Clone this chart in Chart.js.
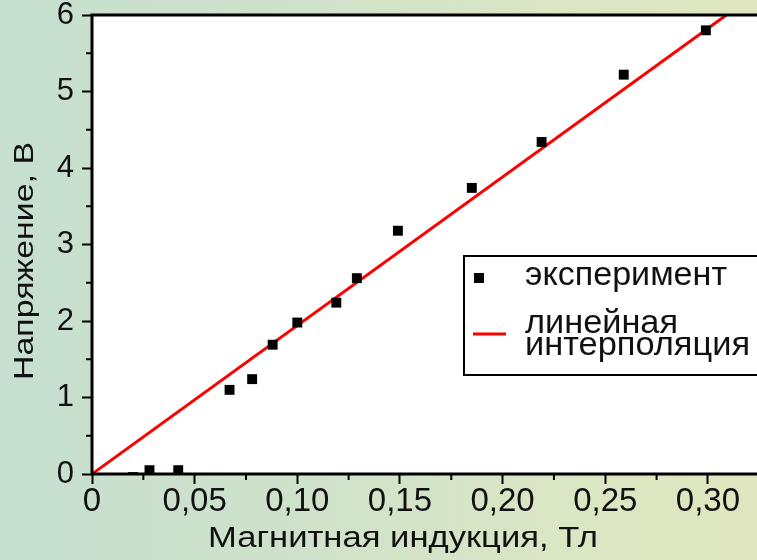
<!DOCTYPE html>
<html>
<head>
<meta charset="utf-8">
<script src="https://cdn.jsdelivr.net/npm/chart.js@4.4.0/dist/chart.umd.min.js"></script>
<style>
    html, body { margin: 0; padding: 0; }
    body {
        width: 757px; height: 560px; overflow: hidden;
        background: linear-gradient(90deg, #c6dfd0 0%, #cfe2ca 40%, #dbe6c4 75%, #e0e6bf 100%);
    }
    #wrap { position: relative; width: 757px; height: 560px; }
    canvas { display: block; }
</style>
</head>
<body>
<div id="wrap"><canvas id="chart" width="757" height="560"></canvas></div>
<script>
// experimental points: magnetic induction (T) vs voltage (V)
const inductionT = [0.020, 0.028, 0.042, 0.067, 0.078, 0.088, 0.100, 0.119, 0.129, 0.149, 0.185, 0.219, 0.259, 0.299];
const voltageV   = [-0.04, 0.05, 0.05, 1.10, 1.24, 1.69, 1.98, 2.24, 2.56, 3.18, 3.74, 4.34, 5.22, 5.80];

// linear interpolation endpoints
const fitT = [0, 0.309];
const fitV = [0, 6];

const xTickLabels = ['0', '0,05', '0,10', '0,15', '0,20', '0,25', '0,30'];
const yTickLabels = ['0', '1', '2', '3', '4', '5', '6'];

const xTitle = 'Магнитная индукция, Тл';
const yTitle = 'Напряжение, В';
const legendLabels = ['эксперимент', ['линейная', 'интерполяция']];

const FONT = '"Liberation Sans", Arial, sans-serif';

const expPoints = inductionT.map((x, i) => ({ x: x, y: voltageV[i] }));
const fitPoints = fitT.map((x, i) => ({ x: x, y: fitV[i] }));

// text stretched to the width it has in the picture
function wideText(ctx, text, x, y, size, width) {
    ctx.font = size + 'px ' + FONT;
    const w = ctx.measureText(text).width;
    ctx.save();
    ctx.translate(x, y);
    ctx.scale(width / w, 1);
    ctx.textAlign = 'left';
    ctx.fillText(text, 0, 0);
    ctx.restore();
}

const framePlugin = {
    id: 'frame',
    beforeDatasetsDraw(chart) {
        const { ctx, chartArea: a } = chart;
        ctx.save();
        ctx.fillStyle = '#fff';
        ctx.fillRect(a.left, a.top, chart.width - a.left, a.bottom - a.top);
        ctx.restore();
    },
    afterDatasetsDraw(chart) {
        const { ctx, chartArea: a, scales } = chart;
        ctx.save();
        // minor ticks
        ctx.strokeStyle = '#000';
        ctx.lineWidth = 2;
        for (let i = 0; i < 7; i++) {
            const px = scales.x.getPixelForValue(0.025 + i * 0.05);
            if (px > a.right) break;
            ctx.beginPath();
            ctx.moveTo(px, a.bottom);
            ctx.lineTo(px, a.bottom + 6);
            ctx.stroke();
        }
        for (let i = 0; i < 6; i++) {
            const py = scales.y.getPixelForValue(0.5 + i);
            ctx.beginPath();
            ctx.moveTo(a.left, py);
            ctx.lineTo(a.left - 6, py);
            ctx.stroke();
        }
        // axes frame: left, bottom, top (open on the right)
        ctx.lineWidth = 3;
        ctx.beginPath();
        ctx.moveTo(chart.width, a.top);
        ctx.lineTo(a.left, a.top);
        ctx.lineTo(a.left, a.bottom);
        ctx.lineTo(chart.width, a.bottom);
        ctx.stroke();
        ctx.restore();
    },
    afterDraw(chart) {
        const { ctx } = chart;
        ctx.save();
        ctx.fillStyle = '#111';
        ctx.textBaseline = 'alphabetic';
        // axis titles
        wideText(ctx, xTitle, 208, 547, 30, 390);
        ctx.translate(33, 380);
        ctx.rotate(-Math.PI / 2);
        wideText(ctx, yTitle, 0, 0, 28, 238);
        ctx.restore();

        // legend
        ctx.save();
        ctx.fillStyle = '#fff';
        ctx.fillRect(464, 256, 300, 119);
        ctx.strokeStyle = '#000';
        ctx.lineWidth = 2;
        ctx.strokeRect(464, 256, 300, 119);
        const ds = chart.data.datasets;
        ctx.fillStyle = ds[0].backgroundColor;
        ctx.fillRect(474, 273, 10, 10);
        ctx.strokeStyle = ds[1].borderColor;
        ctx.lineWidth = 3;
        ctx.beginPath();
        ctx.moveTo(473, 334);
        ctx.lineTo(506, 334);
        ctx.stroke();
        ctx.fillStyle = '#111';
        wideText(ctx, legendLabels[0], 525, 285, 33, 202);
        wideText(ctx, legendLabels[1][0], 525, 333, 33, 153);
        wideText(ctx, legendLabels[1][1], 525, 355, 33, 225);
        ctx.restore();
    }
};

const ctx = document.getElementById('chart').getContext('2d');
const chart = new Chart(ctx, {
    type: 'scatter',
    data: {
        datasets: [
            {
                label: legendLabels[0],
                data: expPoints,
                pointStyle: 'rect',
                pointRadius: 7,
                pointHoverRadius: 7,
                backgroundColor: '#000',
                borderColor: '#000',
                borderWidth: 0,
                clip: 0,
                order: 1
            },
            {
                label: legendLabels[1].join(' '),
                data: fitPoints,
                type: 'line',
                showLine: true,
                pointRadius: 0,
                borderColor: '#ff0000',
                borderWidth: 3,
                clip: 0,
                order: 2
            }
        ]
    },
    options: {
        responsive: false,
        animation: false,
        devicePixelRatio: 1,
        layout: { padding: { top: 15, right: 0, left: 0, bottom: 0 } },
        plugins: {
            legend: { display: false },
            tooltip: { enabled: false }
        },
        scales: {
            x: {
                type: 'linear',
                min: 0,
                max: 0.3205,
                border: { display: false },
                grid: {
                    drawOnChartArea: false,
                    tickLength: 10,
                    tickWidth: 2,
                    tickColor: '#000'
                },
                ticks: {
                    stepSize: 0.05,
                    includeBounds: false,
                    maxRotation: 0,
                    autoSkip: false,
                    padding: 1,
                    color: '#111',
                    font: { family: FONT, size: 33, lineHeight: 1 },
                    callback: (v, i) => xTickLabels[i]
                },
                afterFit: s => {
                    s.height = 86;
                    s.paddingLeft = 0;
                    s.paddingRight = 0;
                }
            },
            y: {
                type: 'linear',
                min: 0,
                max: 6,
                border: { display: false },
                grid: {
                    drawOnChartArea: false,
                    tickLength: 10,
                    tickWidth: 2,
                    tickColor: '#000'
                },
                ticks: {
                    stepSize: 1,
                    padding: 8,
                    color: '#111',
                    font: { family: FONT, size: 31, lineHeight: 1 },
                    callback: (v, i) => yTickLabels[i]
                },
                afterFit: s => {
                    s.width = 92;
                    s.paddingTop = 0;
                    s.paddingBottom = 0;
                }
            }
        }
    },
    plugins: [framePlugin]
});
</script>
</body>
</html>
